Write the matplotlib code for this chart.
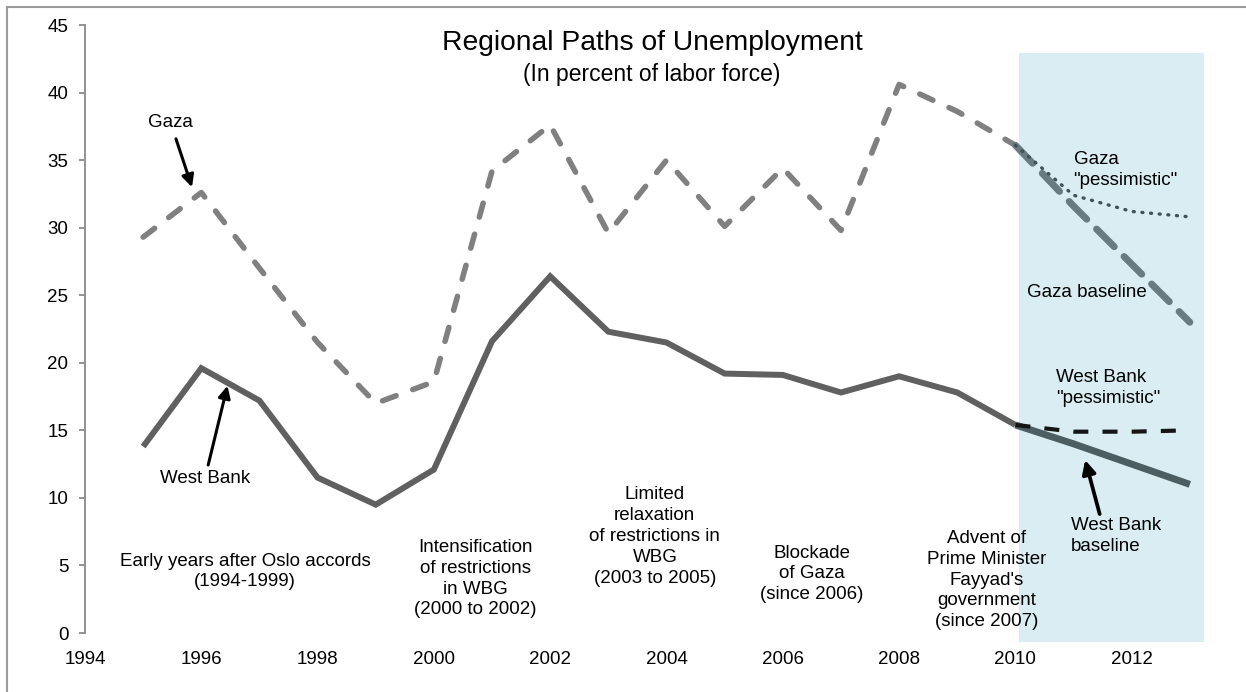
import matplotlib
matplotlib.use("Agg")
import matplotlib.pyplot as plt
from matplotlib.patches import Rectangle
from matplotlib.lines import Line2D

plt.rcParams['font.family'] = ['Liberation Sans', 'DejaVu Sans']

# ---- data ----
years_hist = [1995, 1996, 1997, 1998, 1999, 2000, 2001, 2002, 2003, 2004,
              2005, 2006, 2007, 2008, 2009, 2010]
gaza_hist = [29.3, 32.6, 27.0, 21.5, 17.0, 18.6, 34.2, 37.6, 29.6, 35.0,
             30.1, 34.4, 29.8, 40.6, 38.6, 36.1]
wb_hist = [13.8, 19.6, 17.2, 11.5, 9.5, 12.1, 21.6, 26.4, 22.3, 21.5,
           19.2, 19.1, 17.8, 19.0, 17.8, 15.4]

years_proj = [2010, 2011, 2012, 2013]
gaza_baseline = [36.1, 31.6, 27.3, 23.0]
gaza_pessimistic = [36.1, 32.4, 31.2, 30.8]
wb_baseline = [15.4, 14.0, 12.5, 11.0]
wb_pessimistic = [15.4, 14.9, 14.9, 15.0]

x_ticks = [1994, 1996, 1998, 2000, 2002, 2004, 2006, 2008, 2010, 2012]
y_ticks = [0, 5, 10, 15, 20, 25, 30, 35, 40, 45]

shade_x = [2010.07, 2013.25]
shade_y = [-0.7, 42.9]

W, H = 1246, 692
fig = plt.figure(figsize=(W / 100, H / 100), dpi=100)

# outer frame (top and left visible)
fig.add_artist(Line2D([7 / W, 7 / W], [0, 1 - 7 / H], transform=fig.transFigure,
                      color='#9a9a9a', lw=1.5))
fig.add_artist(Line2D([7 / W, 1], [1 - 7 / H, 1 - 7 / H], transform=fig.transFigure,
                      color='#9a9a9a', lw=1.5))

ax = fig.add_axes([85 / W, 59 / H, (1215 - 85) / W, (633 - 25) / H])
ax.set_xlim(1994, 1994 + (1215 - 85) / 58.15)
ax.set_ylim(0, 45)

# shaded projection region
ax.add_patch(Rectangle((shade_x[0], shade_y[0]), shade_x[1] - shade_x[0],
                       shade_y[1] - shade_y[0], facecolor='#d9edf2',
                       edgecolor='none', clip_on=False, zorder=0))

# historical lines
ax.plot(years_hist, wb_hist, color='#606060', lw=4.3, solid_joinstyle='miter',
        solid_capstyle='butt', zorder=3)
ax.plot(years_hist, gaza_hist, color='#808080', lw=4.0, dashes=(2.6, 3.2),
        dash_capstyle='round', zorder=3)

# projections
ax.plot(years_proj, wb_baseline, color='#4d5e62', lw=5.0, solid_capstyle='butt', zorder=3)
ax.plot(years_proj, wb_pessimistic, color='#151515', lw=3.0, dashes=(3.6, 3.4),
        dash_capstyle='butt', zorder=4)
ax.plot(years_proj, gaza_baseline, color='#687b80', lw=5.0, dashes=(3.6, 2.0),
        dash_capstyle='round', zorder=3)
ax.plot(years_proj, gaza_pessimistic, color='#3f5357', lw=2.4, dashes=(0.3, 2.3),
        dash_capstyle='round', zorder=4)

# axes styling
for s in ['top', 'right', 'bottom']:
    ax.spines[s].set_visible(False)
ax.spines['left'].set_color('#8a8a8a')
ax.spines['left'].set_linewidth(1.3)
ax.set_xticks(x_ticks)
ax.set_yticks(y_ticks)
ax.tick_params(axis='x', length=0, pad=13, labelsize=13.5)
ax.tick_params(axis='y', length=4, width=1.3, color='#8a8a8a', pad=8, labelsize=13.5)
ax.set_xticklabels([str(v) for v in x_ticks])
ax.set_yticklabels([str(v) for v in y_ticks])

# titles
fig.text(652 / W, 1 - 43 / H, 'Regional Paths of Unemployment', ha='center',
         va='center', fontsize=20.3)
fig.text(652 / W, 1 - 74 / H, '(In percent of labor force)', ha='center',
         va='center', fontsize=16.5)

fs = 13.5
ls = 1.3

# series labels with arrows
ax.annotate('Gaza', xy=(1995.84, 33.0), xytext=(1995.47, 37.8),
            ha='center', va='center', fontsize=fs,
            arrowprops=dict(arrowstyle='-|>', color='black', lw=2.2,
                            mutation_scale=18, shrinkA=4, shrinkB=0))
ax.annotate('West Bank', xy=(1996.45, 18.3), xytext=(1996.06, 11.4),
            ha='center', va='center', fontsize=fs,
            arrowprops=dict(arrowstyle='-|>', color='black', lw=2.2,
                            mutation_scale=18, shrinkA=2, shrinkB=0))
ax.annotate('West Bank\nbaseline', xy=(2011.2, 12.8), xytext=(2010.95, 8.6),
            ha='left', va='top', fontsize=fs, linespacing=ls,
            arrowprops=dict(arrowstyle='-|>', color='black', lw=2.7,
                            mutation_scale=20, shrinkA=0, shrinkB=0,
                            relpos=(0.33, 1.0)))

ax.text(2010.7, 18.15, 'West Bank\n"pessimistic"', ha='left', va='center',
        fontsize=fs, linespacing=ls)
ax.text(2011.0, 34.3, 'Gaza\n"pessimistic"', ha='left', va='center',
        fontsize=fs, linespacing=ls)
ax.text(2010.2, 25.2, 'Gaza baseline', ha='left', va='center', fontsize=fs)

# period annotations
ax.text(1996.75, 4.55, 'Early years after Oslo accords\n(1994-1999)', ha='center',
        va='center', fontsize=fs, linespacing=ls)
ax.text(2000.71, 4.03, 'Intensification\nof restrictions\nin WBG\n(2000 to 2002)',
        ha='center', va='center', fontsize=fs, linespacing=ls)
ax.text(2003.8, 7.14, 'Limited\nrelaxation\nof restrictions in\nWBG\n(2003 to 2005)',
        ha='center', va='center', fontsize=fs, linespacing=ls)
ax.text(2006.5, 4.37, 'Blockade\nof Gaza\n(since 2006)', ha='center', va='center',
        fontsize=fs, linespacing=ls)
ax.text(2009.51, 3.92, "Advent of\nPrime Minister\nFayyad's\ngovernment\n(since 2007)",
        ha='center', va='center', fontsize=fs, linespacing=ls)

fig.savefig('out.png', dpi=100)
